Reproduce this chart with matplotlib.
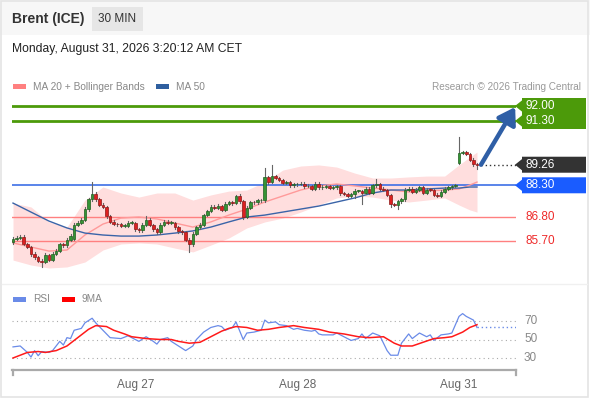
import matplotlib
matplotlib.use('Agg')
import matplotlib.pyplot as plt
from matplotlib.patches import Rectangle, Polygon
from matplotlib.lines import Line2D
import matplotlib.transforms as mtransforms

plt.rcParams['font.family'] = ['Liberation Sans', 'DejaVu Sans']

# ---------------- data ----------------
opens = [85.65, 85.80, 85.84, 85.90, 85.56, 85.42, 85.10, 84.95, 84.78, 84.72,
         85.05, 84.82, 85.10, 85.25, 85.55, 85.50, 85.75, 85.80, 86.45, 86.55,
         86.70, 87.20, 87.65, 87.90, 87.65, 87.40, 87.28, 86.85, 86.60, 86.50,
         86.48, 86.40, 86.42, 86.55, 86.55, 86.25, 86.20, 86.45, 86.70, 86.45,
         86.25, 86.10, 86.45, 86.60, 86.55, 86.55, 86.35, 86.15, 86.10, 85.75,
         85.55, 86.05, 86.35, 86.45, 86.92, 87.10, 87.30, 87.25, 87.35, 87.15,
         87.45, 87.50, 87.48, 87.80, 87.55, 86.82, 87.25, 87.52, 87.50, 87.60,
         87.60, 88.68, 88.45, 88.72, 88.65, 88.55, 88.42, 88.45, 88.30, 88.35,
         88.35, 88.38, 88.25, 88.28, 88.15, 88.38, 88.20, 88.22, 88.25, 88.18,
         88.20, 88.25, 87.92, 87.90, 87.82, 87.88, 88.05, 88.05, 87.95, 88.15,
         87.95, 88.30, 88.35, 88.15, 88.08, 87.85, 87.42, 87.38, 87.55, 87.65,
         88.10, 88.15, 88.00, 88.10, 88.20, 87.95, 88.10, 88.08, 87.85, 87.80,
         88.00, 88.15, 88.20, 88.25, 89.35, 89.80, 89.85, 89.75, 89.50, 89.30]
closes = [85.80, 85.84, 85.90, 85.56, 85.42, 85.10, 84.95, 84.78, 84.72, 85.05,
          84.82, 85.10, 85.25, 85.55, 85.50, 85.75, 85.95, 86.45, 86.55, 86.70,
          87.20, 87.65, 87.90, 87.65, 87.40, 87.28, 86.85, 86.60, 86.50, 86.48,
          86.40, 86.42, 86.55, 86.55, 86.25, 86.20, 86.45, 86.70, 86.45, 86.25,
          86.10, 86.45, 86.60, 86.55, 86.55, 86.35, 86.15, 86.10, 85.75, 85.55,
          86.05, 86.35, 86.45, 86.92, 87.10, 87.30, 87.25, 87.35, 87.15, 87.45,
          87.50, 87.48, 87.80, 87.55, 86.82, 87.25, 87.52, 87.50, 87.60, 87.60,
          88.68, 88.45, 88.72, 88.65, 88.55, 88.42, 88.45, 88.30, 88.35, 88.35,
          88.38, 88.25, 88.28, 88.15, 88.38, 88.20, 88.22, 88.25, 88.18, 88.20,
          88.25, 87.92, 87.90, 87.82, 87.88, 88.05, 88.05, 87.95, 88.15, 87.95,
          88.30, 88.35, 88.15, 88.08, 87.85, 87.42, 87.38, 87.55, 87.65, 88.10,
          88.15, 88.00, 88.10, 88.20, 87.95, 88.10, 88.08, 87.85, 87.80, 88.00,
          88.15, 88.20, 88.25, 88.30, 89.80, 89.85, 89.75, 89.50, 89.30, 89.26]
highs = [85.90, 85.92, 85.98, 85.96, 85.62, 85.48, 85.18, 85.02, 84.85, 85.12,
         85.10, 85.18, 85.32, 85.62, 85.60, 85.82, 86.02, 86.52, 86.62, 86.78,
         87.28, 87.72, 88.45, 87.98, 87.72, 87.48, 87.35, 86.92, 86.66, 86.56,
         86.55, 86.50, 86.62, 86.62, 86.60, 86.32, 86.52, 86.85, 86.76, 86.50,
         86.32, 86.52, 86.68, 86.66, 86.62, 86.60, 86.42, 86.22, 86.16, 85.82,
         86.12, 86.42, 86.52, 86.98, 87.16, 87.36, 87.38, 87.42, 87.40, 87.52,
         87.58, 87.56, 87.86, 87.90, 87.60, 87.32, 87.58, 87.58, 87.66, 87.66,
         89.10, 88.74, 89.25, 88.78, 88.70, 88.60, 88.52, 88.50, 88.42, 88.40,
         88.45, 88.44, 88.35, 88.33, 88.45, 88.44, 88.30, 88.32, 88.30, 88.28,
         88.32, 88.30, 87.98, 87.96, 87.95, 88.12, 88.10, 88.10, 88.22, 88.20,
         88.38, 88.60, 88.40, 88.20, 88.12, 87.90, 87.48, 87.62, 87.72, 88.18,
         88.22, 88.20, 88.16, 88.28, 88.25, 88.18, 88.16, 88.12, 87.92, 88.06,
         88.22, 88.26, 88.30, 88.36, 90.55, 89.92, 89.90, 89.80, 89.56, 89.34]
lows = [85.55, 85.74, 85.78, 85.50, 85.36, 85.02, 84.88, 84.70, 84.50, 84.66,
        84.75, 84.76, 85.04, 85.18, 85.44, 85.44, 85.68, 85.74, 86.38, 86.48,
        86.64, 87.12, 87.58, 87.58, 87.34, 87.22, 86.78, 86.52, 86.44, 86.42,
        86.34, 86.35, 86.36, 86.48, 86.18, 86.12, 86.14, 86.38, 86.38, 86.18,
        86.02, 86.04, 86.38, 86.48, 86.48, 86.28, 86.08, 86.02, 85.68, 85.20,
        85.48, 85.98, 86.28, 86.38, 86.85, 87.04, 87.18, 87.20, 87.08, 87.10,
        87.38, 87.40, 87.42, 87.48, 86.75, 86.76, 87.18, 87.44, 87.44, 87.52,
        87.52, 88.38, 88.40, 88.58, 88.48, 88.36, 88.36, 88.24, 88.24, 88.28,
        88.30, 88.18, 88.20, 88.08, 88.10, 88.14, 88.15, 88.16, 88.12, 88.12,
        88.14, 87.85, 87.84, 87.76, 87.76, 87.70, 87.98, 87.45, 87.88, 87.88,
        87.88, 88.24, 88.08, 88.02, 87.78, 87.30, 87.32, 87.20, 87.48, 87.58,
        88.04, 87.94, 87.95, 88.04, 87.88, 87.90, 88.02, 87.78, 87.74, 87.74,
        87.94, 88.10, 88.14, 88.20, 89.28, 89.74, 89.70, 89.44, 89.22, 89.05]

# indicator samples (bar index -> value)
ind_idx = [0, 5, 10, 15, 20, 25, 30, 35, 40, 45, 50, 55, 60, 65, 70, 75, 80,
           85, 90, 95, 100, 105, 110, 115, 120, 124, 127, 129]
bb_upper = [87.47, 87.29, 86.59, 86.35, 87.61, 88.22, 87.94, 87.75, 87.94, 87.94,
            87.61, 87.85, 88.03, 88.08, 88.45, 89.01, 89.20, 89.25, 89.15, 88.87,
            88.64, 88.64, 88.69, 88.73, 88.73, 89.25, 89.62, 89.85]
bb_lower = [84.81, 84.58, 84.44, 84.49, 84.72, 85.28, 85.56, 85.61, 85.56, 85.37,
            85.19, 85.51, 85.84, 86.31, 86.59, 86.77, 87.05, 87.38, 87.71, 87.80,
            87.75, 87.61, 87.52, 87.61, 87.71, 87.38, 87.15, 87.05]
ma20 = [85.61, 85.42, 85.23, 85.28, 85.98, 86.49, 86.77, 86.82, 86.73, 86.54,
        86.35, 86.59, 86.91, 87.19, 87.52, 87.80, 88.08, 88.27, 88.36, 88.27,
        88.17, 88.08, 87.99, 88.03, 88.08, 88.13, 88.31, 88.45]
ma50 = [87.47, 87.05, 86.63, 86.31, 86.07, 85.98, 85.93, 85.93, 85.98, 86.07,
        86.17, 86.35, 86.59, 86.82, 86.91, 87.05, 87.19, 87.33, 87.52, 87.71,
        87.94, 88.08, 88.08, 88.13, 88.17, 88.17, 88.22, 88.22]

rsi_idx = [0, 2, 4, 5, 6, 7, 8, 10, 11, 13, 14, 15, 16, 17, 19, 20, 22, 23, 25, 27,
           30, 32, 33, 35, 37, 39, 40, 41, 43, 44, 46, 48, 50, 51, 53, 55, 57, 58, 59,
           61, 62, 64, 65, 67, 69, 70, 71, 73, 74, 76, 78, 79, 81, 83, 84, 85, 86, 89,
           90, 92, 94, 96, 97, 98, 100, 102, 104, 105, 107, 108, 110, 111, 113, 115,
           116, 117, 119, 121, 122, 124, 125, 126, 128, 129]
rsi = [42, 43, 36, 31, 38, 32.5, 37, 36, 38, 48, 44, 52, 51, 60, 62, 68, 73, 68, 60, 52,
       51, 54, 52, 48, 53, 48, 45, 50, 52, 48, 43, 38, 43, 50, 58, 63, 65, 64, 60,
       63, 69, 50, 57, 58, 60, 71, 68, 69, 66, 65, 61, 62, 60, 59, 60, 56, 55, 55,
       57, 53, 49, 51, 56, 51, 57, 54, 38, 33, 33, 46, 56, 51, 57, 53,
       55, 49, 55, 56, 57, 75, 78, 75, 71, 63]
ma9_idx = [0, 4, 7, 9, 12, 15, 18, 21, 23, 26, 28, 31, 33, 37, 41, 44, 46, 49, 52,
           55, 58, 60, 62, 65, 68, 71, 74, 78, 81, 85, 88, 92, 96, 99, 103, 106, 108,
           111, 114, 117, 120, 122, 125, 127, 129]
ma9 = [30, 36, 37, 36, 38, 43, 52, 61, 65, 64, 60, 56, 53, 51, 50, 50, 48, 46, 47,
       53, 59, 62, 64, 63, 60, 61, 63, 65, 63, 61, 58, 56, 53, 52, 53, 46, 43,
       43, 47, 51, 52, 53, 58, 63, 66]

tick_pos = [34, 79, 124]
tick_labels = ['Aug 27', 'Aug 28', 'Aug 31']

res_levels = [92.00, 91.30]
last_price = 89.26
pivot = 88.30
sup_levels = [86.80, 85.70]
rsi_levels = [70, 50, 30]

# ---------------- layout helpers ----------------
W, H = 590, 400
def fx(px):
    return px / W
def fy(py):
    return 1 - py / H

fig = plt.figure(figsize=(W / 100, H / 100), dpi=100)
fig.patch.set_facecolor('white')

# header band and border
fig.add_artist(Rectangle((0, fy(35)), 1, 35 / H, transform=fig.transFigure,
                         facecolor='#f7f7f7', edgecolor='none', zorder=0))
fig.add_artist(Rectangle((fx(1), fy(397)), fx(587), 396 / H, transform=fig.transFigure,
                         facecolor='none', edgecolor='#e4e4e4', lw=1.2, zorder=0))
fig.add_artist(Line2D([fx(2), fx(587)], [fy(284), fy(284)], color='#f0f0f0', lw=1))

fig.text(fx(12), fy(19), 'Brent (ICE)', fontsize=10, fontweight='bold',
         color='#333333', va='center', ha='left')
fig.add_artist(Rectangle((fx(92), fy(31)), fx(51), 24 / H, transform=fig.transFigure,
                         facecolor='#e6e6e6', edgecolor='none'))
fig.text(fx(117.5), fy(19), '30 MIN', fontsize=8.5, color='#333333',
         va='center', ha='center')
fig.text(fx(12), fy(49), 'Monday, August 31, 2026 3:20:12 AM CET', fontsize=8.7,
         color='#222222', va='center', ha='left')

# legends
def legend_item(x, y, color, label):
    fig.add_artist(Rectangle((fx(x), fy(y + 2.5)), fx(13), 5 / H,
                             transform=fig.transFigure, facecolor=color, edgecolor='none'))
    fig.text(fx(x + 20), fy(y), label, fontsize=7.3, color='#888888',
             va='center', ha='left')

legend_item(13, 86.5, '#ff8080', 'MA 20 + Bollinger Bands')
legend_item(156, 86.5, '#2f5f9f', 'MA 50')
fig.text(fx(581), fy(86.5), 'Research \u00a9 2026 Trading Central', fontsize=7.2,
         color='#999999', va='center', ha='right')
legend_item(13, 299, '#6a8be8', 'RSI')
legend_item(62, 299, '#ff0000', '9MA')

# ---------------- price panel ----------------
PX0, PX1 = 12, 516
SP = 3.597  # px per bar
XL = ((PX0 - 13) / SP, (PX1 - 13) / SP)
PPU = 21.43
ax = fig.add_axes([fx(PX0), fy(280), fx(PX1) - fx(PX0), (280 - 92) / H])
ax.set_xlim(*XL)
ax.set_ylim(92 - (280 - 106) / PPU, 92 + (106 - 92) / PPU)
ax.axis('off')

ax.fill_between(ind_idx, bb_lower, bb_upper, color='#ffdede', lw=0, zorder=1)
for lv in res_levels:
    ax.axhline(lv, color='#4c9a0a', lw=2, zorder=2)
for lv in sup_levels:
    ax.axhline(lv, color='#ff8080', lw=1, zorder=2)
ax.axhline(pivot, color='#3d6fe6', lw=1.2, zorder=2)
ax.plot(ind_idx, ma20, color='#ff9a9a', lw=1, zorder=3)
ax.plot(ind_idx, ma50, color='#3a64a8', lw=1, zorder=3)

for i, (o, h, l, c) in enumerate(zip(opens, highs, lows, closes)):
    up = c >= o
    fc = '#359435' if up else '#dd2020'
    ec = '#1f5f1f' if up else '#8a1818'
    ax.plot([i, i], [l, h], color='#666666', lw=0.8, zorder=4)
    bot = min(o, c)
    hgt = max(abs(c - o), 0.025)
    ax.add_patch(Rectangle((i - 0.36, bot), 0.72, hgt, facecolor=fc, edgecolor=ec,
                           lw=0.5, zorder=5))

n = len(closes)
ax.plot([n, XL[1]], [last_price, last_price], color='#333333', lw=1,
        linestyle=(0, (1, 2)), zorder=3)
ax.annotate('', xy=(139.6, res_levels[0] - 0.05), xytext=(n + 0.1, last_price),
            arrowprops=dict(arrowstyle='-|>,head_length=0.7,head_width=0.45',
                            color='#2f5fa6', lw=3.2, shrinkA=0, shrinkB=0,
                            mutation_scale=14),
            annotation_clip=False, zorder=6)

# right side labels
tr = mtransforms.blended_transform_factory(fig.transFigure, ax.transData)
hh = 8 / PPU
def tag(levels, color, textcolor='white'):
    top, bot = max(levels) + hh, min(levels) - hh
    pts = [(fx(522), top), (fx(586), top), (fx(586), bot), (fx(522), bot)]
    for lv in sorted(levels):
        pts += [(fx(522), lv - hh * 0.7), (fx(515), lv), (fx(522), lv + hh * 0.7)]
    ax.add_patch(Polygon(pts, closed=True, transform=tr, facecolor=color,
                         edgecolor='none', clip_on=False, zorder=7))
    for lv in levels:
        ax.text(fx(525), lv, f'{lv:.2f}', transform=tr, color=textcolor,
                fontsize=8.5, va='center', ha='left', clip_on=False, zorder=8)

tag(res_levels, '#4c9a0a')
tag([last_price], '#333333')
tag([pivot], '#1a5cff')
for lv in sup_levels:
    ax.text(fx(525), lv, f'{lv:.2f}', transform=tr, color='#ee2a2a', fontsize=8.5,
            va='center', ha='left', clip_on=False)

# ---------------- RSI panel ----------------
RPU = 0.925
ax2 = fig.add_axes([fx(PX0), fy(369), fx(PX1) - fx(PX0), (369 - 305) / H])
ax2.set_xlim(*XL)
ax2.set_ylim(30 - (369 - 358) / RPU, 70 + (321 - 305) / RPU)
for s in ax2.spines.values():
    s.set_visible(False)
ax2.set_yticks([])
ax2.set_facecolor('none')
for lv in rsi_levels:
    ax2.axhline(lv, color='#aaaaaa', lw=0.8, linestyle=(0, (1, 3)), zorder=1)
    ax2.text(fx(524), lv, str(lv), transform=mtransforms.blended_transform_factory(
        fig.transFigure, ax2.transData), color='#888888', fontsize=8.5,
        va='center', ha='left')
ax2.plot(rsi_idx, rsi, color='#6a8be8', lw=0.9, zorder=3)
ax2.plot(ma9_idx, ma9, color='#ff1a1a', lw=1.1, zorder=4)
ax2.plot([rsi_idx[-1], XL[1]], [rsi[-1], rsi[-1]], color='#6a8be8', lw=1,
         linestyle=(0, (1, 2)), zorder=3)
ax2.set_xticks(tick_pos)
ax2.set_xticklabels(tick_labels)
ax2.tick_params(axis='x', length=0, pad=7, labelsize=8.5, labelcolor='#666666')

# bottom axis line
fig.add_artist(Line2D([fx(12), fx(516)], [fy(369.5), fy(369.5)], color='#aaaaaa', lw=1.6))
for xe in (12.5, 515.5):
    fig.add_artist(Line2D([fx(xe), fx(xe)], [fy(369.5), fy(375)], color='#aaaaaa', lw=1.6))

fig.savefig('out.png', dpi=100)
